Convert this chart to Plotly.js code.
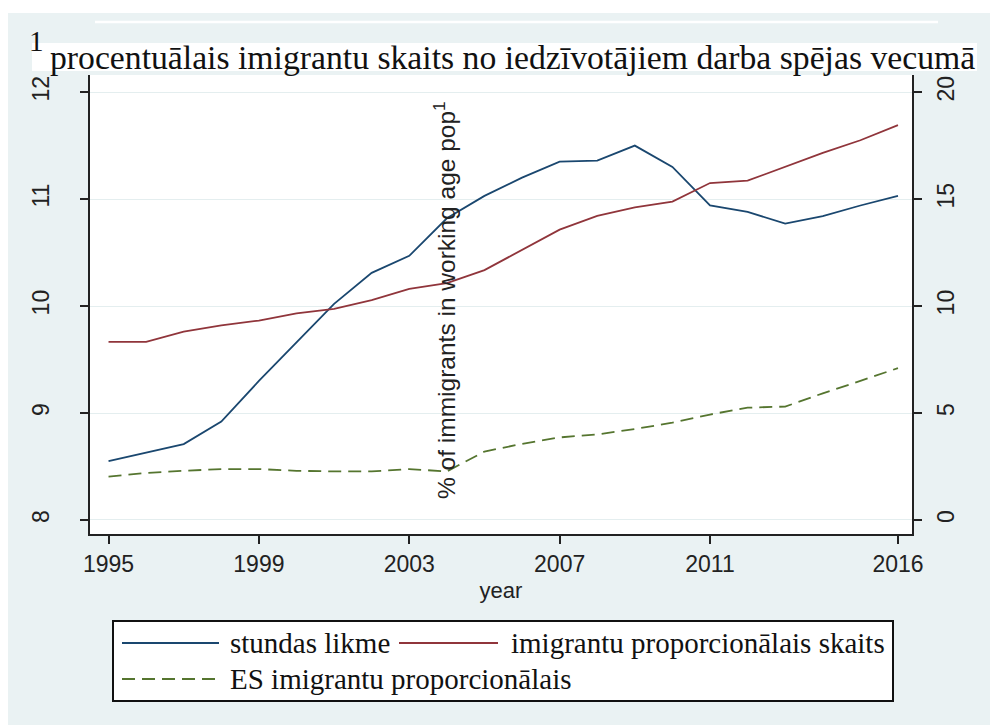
<!DOCTYPE html>
<html>
<head>
<meta charset="utf-8">
<script src="https://cdn.plot.ly/plotly-3.0.1.min.js"></script>
<style>html,body{margin:0;padding:0;background:#fff;}#chart{width:990px;height:725px;}</style>
</head>
<body>
<div id="chart"></div>
<script>
// ---- data ----
const years = [1995,1996,1997,1998,1999,2000,2001,2002,2003,2004,2005,2006,2007,2008,2009,2010,2011,2012,2013,2014,2015,2016];
const hourlyWage = [8.55,8.63,8.71,8.92,9.30,9.66,10.02,10.31,10.47,10.82,11.03,11.20,11.35,11.36,11.50,11.30,10.94,10.88,10.77,10.84,10.94,11.03];
const immigrantShare = [8.33,8.33,8.80,9.10,9.32,9.66,9.87,10.28,10.80,11.07,11.68,12.62,13.57,14.21,14.61,14.88,15.75,15.86,16.50,17.16,17.75,18.46];
const euImmigrantShare = [2.03,2.20,2.30,2.38,2.38,2.30,2.27,2.27,2.38,2.27,3.20,3.56,3.86,4.00,4.25,4.55,4.93,5.25,5.30,5.92,6.50,7.10];
const seriesNames = ["stundas likme","imigrantu proporcionālais skaits","ES imigrantu proporcionālais"];
const xTicks = [1995,1999,2003,2007,2011,2016];
const yLeftTicks = [8,9,10,11,12];
const yRightTicks = [0,5,10,15,20];
const titleText = "procentuālais imigrantu skaits no iedzīvotājiem darba spējas vecumā";
const titleSup = "1";
const midText = "% of immigrants in working age pop<sup>1</sup>";
const xTitle = "year";

// ---- styling ----
const W = 990, H = 725;
const L = 90, R = 912, T = 75, B = 534;
const px = x => (x - L) / (R - L);
const py = y => (B - y) / (B - T);
const navy = "#1a476f", maroon = "#90353b", green = "#55752f";
const bg = "#eaf2f3";
const serif = "Liberation Serif, Times New Roman, serif";
const sans = "Liberation Sans, Arial, sans-serif";

const traces = [
  {x: years, y: hourlyWage, name: seriesNames[0], type: "scatter", mode: "lines",
   line: {color: navy, width: 1.8}, yaxis: "y"},
  {x: years, y: immigrantShare, name: seriesNames[1], type: "scatter", mode: "lines",
   line: {color: maroon, width: 1.8}, yaxis: "y2"},
  {x: years, y: euImmigrantShare, name: seriesNames[2], type: "scatter", mode: "lines",
   line: {color: green, width: 1.8, dash: "13px,7px"}, yaxis: "y2"}
];

const shapes = [
  {type: "rect", xref: "paper", yref: "paper", x0: px(0), x1: px(W), y0: py(13), y1: py(0), fillcolor: "#fff", line: {width: 0}, layer: "below"},
  {type: "rect", xref: "paper", yref: "paper", x0: px(0), x1: px(8), y0: py(H), y1: py(0), fillcolor: "#fff", line: {width: 0}, layer: "below"},
  {type: "line", xref: "paper", yref: "paper", x0: px(95), x1: px(938), y0: py(22), y1: py(22), line: {color: "#fff", width: 2.5}},
  {type: "rect", xref: "paper", yref: "paper", x0: px(32), x1: px(977), y0: py(71), y1: py(43), fillcolor: "#fff", line: {width: 0}, layer: "below"},
  {type: "rect", xref: "paper", yref: "paper", x0: px(113), x1: px(893), y0: py(701), y1: py(621), fillcolor: "#fff", line: {color: "#111", width: 2}},
  {type: "line", xref: "paper", yref: "paper", x0: px(122), x1: px(219), y0: py(643), y1: py(643), line: {color: navy, width: 2}},
  {type: "line", xref: "paper", yref: "paper", x0: px(399), x1: px(498), y0: py(643), y1: py(643), line: {color: maroon, width: 2}},
  {type: "line", xref: "paper", yref: "paper", x0: px(122), x1: px(219), y0: py(679), y1: py(679), line: {color: green, width: 2, dash: "13px,7px"}}
];

const annotations = [
  {xref: "paper", yref: "paper", x: px(37), y: py(41), text: titleSup, showarrow: false,
   font: {family: serif, size: 29, color: "#111"}, xanchor: "center", yanchor: "middle"},
  {xref: "paper", yref: "paper", x: px(444), y: py(300), text: midText, showarrow: false, textangle: -90,
   font: {family: sans, size: 24.5, color: "#222"}, xanchor: "center", yanchor: "middle"},
  {xref: "paper", yref: "paper", x: px(228), y: py(643), text: seriesNames[0], showarrow: false,
   font: {family: serif, size: 29, color: "#111"}, xanchor: "left", yanchor: "middle"},
  {xref: "paper", yref: "paper", x: px(509), y: py(643), text: seriesNames[1], showarrow: false,
   font: {family: serif, size: 29, color: "#111"}, xanchor: "left", yanchor: "middle"},
  {xref: "paper", yref: "paper", x: px(228), y: py(679), text: seriesNames[2], showarrow: false,
   font: {family: serif, size: 29, color: "#111"}, xanchor: "left", yanchor: "middle"}
];

const layout = {
  width: W, height: H,
  paper_bgcolor: bg, plot_bgcolor: "#fff",
  margin: {l: L, r: W - R, t: T, b: H - B, pad: 0},
  showlegend: false,
  title: {text: titleText, x: 50 / W, xanchor: "left", xref: "container",
          y: 1 - 57 / H, yanchor: "middle", yref: "container",
          font: {family: serif, size: 33.7, color: "#111"}},
  xaxis: {range: [1994.507, 2016.373], tickvals: xTicks, ticktext: xTicks.map(String),
          ticks: "outside", ticklen: 8, tickwidth: 2, tickcolor: "#222",
          showline: true, linewidth: 2, linecolor: "#222", showgrid: false, zeroline: false,
          tickfont: {family: sans, size: 23, color: "#222"},
          title: {text: xTitle, font: {family: sans, size: 22, color: "#222"}, standoff: 7}},
  yaxis: {range: [7.869, 12.16], tickvals: yLeftTicks, ticktext: yLeftTicks.map(String),
          ticks: "outside", ticklen: 8, tickwidth: 2, tickcolor: "#222", tickangle: -90,
          showline: true, linewidth: 2, linecolor: "#222",
          showgrid: true, gridcolor: "#e4eeef", gridwidth: 1, zeroline: false,
          ticklabelstandoff: 22,
          tickfont: {family: sans, size: 23, color: "#222"}},
  yaxis2: {overlaying: "y", side: "right", range: [-0.655, 20.8], tickvals: yRightTicks,
           ticktext: yRightTicks.map(String),
           ticks: "outside", ticklen: 8, tickwidth: 2, tickcolor: "#222", tickangle: -90,
           showline: true, linewidth: 2, linecolor: "#222", showgrid: false, zeroline: false,
           ticklabelstandoff: 4,
           tickfont: {family: sans, size: 23, color: "#222"}},
  shapes: shapes,
  annotations: annotations
};

Plotly.newPlot("chart", traces, layout, {displayModeBar: false, staticPlot: true});
</script>
</body>
</html>
